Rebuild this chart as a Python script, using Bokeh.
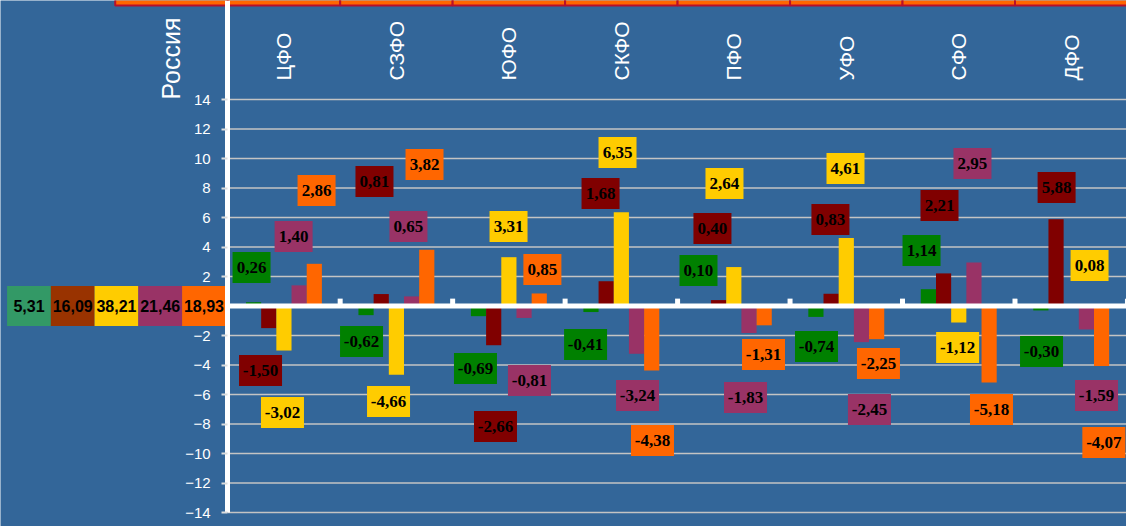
import numpy as np
from bokeh.plotting import figure
from bokeh.models import Range1d, LinearAxis, FixedTicker
from bokeh.core.properties import value
from bokeh.embed import file_html
from bokeh.resources import INLINE

# ---------------- data ----------------
total_name = "Россия"
regions = ["ЦФО", "СЗФО", "ЮФО", "СКФО", "ПФО", "УФО", "СФО", "ДФО"]
russia_shares = [5.31, 16.09, 38.21, 21.46, 18.93]

s_green = [0.26, -0.62, -0.69, -0.41, 0.10, -0.74, 1.14, -0.30]
s_darkred = [-1.50, 0.81, -2.66, 1.68, 0.40, 0.83, 2.21, 5.88]
s_yellow = [-3.02, -4.66, 3.31, 6.35, 2.64, 4.61, -1.12, 0.08]
s_purple = [1.40, 0.65, -0.81, -3.24, -1.83, -2.45, 2.95, -1.59]
s_orange = [2.86, 3.82, 0.85, -4.38, -1.31, -2.25, -5.18, -4.07]

y_ticks = [-14, -12, -10, -8, -6, -4, -2, 2, 4, 6, 8, 10, 12, 14]

# ---------------- layout / style ----------------
series = [s_green, s_darkred, s_yellow, s_purple, s_orange]
colors = ["#008000", "#800000", "#FFCC00", "#993366", "#FF6600"]
russia_colors = ["#339966", "#993300", "#FFCC00", "#993366", "#FF6600"]

# label anchors (offset from category centre, y position), manually placed labels
label_dx = [
    [-0.288, -0.310, -0.297, -0.318, -0.314, -0.265, -0.331, -0.264],
    [-0.208, -0.195, -0.119, -0.185, -0.190, -0.141, -0.171, -0.130],
    [-0.013, -0.070, -0.003, -0.034, -0.083, -0.007, -0.010, 0.163],
    [0.086, 0.107, 0.183, 0.144, 0.104, 0.206, 0.122, 0.225],
    [0.290, 0.250, 0.298, 0.277, 0.264, 0.286, 0.291, 0.290],
]
label_y = [
    [2.61, -2.41, -4.24, -2.61, 2.41, -2.75, 3.76, -3.08],
    [-4.37, 8.44, -8.17, 7.63, 5.25, 5.86, 6.81, 8.03],
    [-7.22, -6.47, 5.39, 10.41, 8.31, 9.32, -2.81, 2.75],
    [4.71, 5.39, -5.05, -6.07, -6.20, -7.02, 9.66, -6.07],
    [7.83, 9.59, 2.47, -9.12, -3.29, -3.90, -7.02, -9.25],
]

BG = "#336699"
W, H = 1126, 526
PX_CAT = 112.47      # pixels per category
AX_PX = 227.2        # pixel position of the value axis
ZERO_PX = 305.5      # pixel position of zero
PX_UNIT = 14.75      # pixels per value unit
x_start = -AX_PX / PX_CAT
x_end = (W - AX_PX) / PX_CAT
y_end = ZERO_PX / PX_UNIT
y_start = (ZERO_PX - H) / PX_UNIT

p = figure(width=W, height=H,
           x_range=Range1d(x_start, x_end), y_range=Range1d(y_start, y_end),
           output_backend="svg", toolbar_location=None,
           x_axis_type=None, y_axis_type=None,
           min_border_left=0, min_border_right=0, min_border_top=0,
           min_border_bottom=0,
           background_fill_color=BG, border_fill_color=BG,
           outline_line_color=None,
           styles={"position": "absolute", "left": "0px", "top": "0px"})

n = len(regions)
centers = np.arange(n) + 0.5
bar_w = 0.135

# table strip at the very top (one cell per category incl. Russia)
cells_left = np.arange(-1, n)
top_px = 5
p.quad(left=cells_left, right=cells_left + 1, bottom=(ZERO_PX - top_px) / PX_UNIT,
       top=y_end + 2, fill_color="#FF6600", line_color="#B8102A", line_width=2)

# gridlines (only right of the axis)
p.segment(x0=[0] * len(y_ticks), x1=[n] * len(y_ticks), y0=y_ticks, y1=y_ticks,
          line_color="#C4C4C4", line_width=1.5)

# bars
for k, (vals, col) in enumerate(zip(series, colors)):
    xs = centers + (k - 2) * bar_w
    p.vbar(x=xs, top=vals, bottom=0, width=bar_w, fill_color=col, line_color=None)

# zero line with category tick marks
p.segment(x0=[0], x1=[n], y0=[0], y1=[0], line_color="white", line_width=5)
bnd = np.arange(1, n + 1)
p.segment(x0=bnd, x1=bnd, y0=[0] * n, y1=[0.5] * n, line_color="white", line_width=5)


def fmt(v):
    return f"{v:.2f}".replace(".", ",")


# data labels: coloured box + bold serif text
for k, (vals, col) in enumerate(zip(series, colors)):
    xs = centers + np.array(label_dx[k])
    texts = [fmt(v) for v in vals]
    box_w = [38 if v >= 0 else 43 for v in vals]
    p.rect(x=xs, y=label_y[k], width=box_w, height=31,
           width_units="screen", height_units="screen",
           fill_color=col, line_color=None)
    p.text(x=xs, y=label_y[k], text=texts,
           text_font=value("Liberation Serif"), text_font_style="bold",
           text_font_size="17px", text_color="black",
           text_align="center", text_baseline="middle")

# Russia shares row
r_w = 0.389
r_x = -1.767 + np.arange(len(russia_shares)) * r_w
p.rect(x=r_x, y=[0] * len(r_x), width=r_w, height=2.71,
       fill_color=russia_colors, line_color=None)
p.text(x=r_x, y=[0] * len(r_x), text=[fmt(v) for v in russia_shares],
       text_font=value("Liberation Sans"), text_font_style="bold",
       text_font_size="16px", text_color="black",
       text_align="center", text_baseline="middle")

# value axis at the Russia / ЦФО boundary
yaxis = LinearAxis(fixed_location=0, ticker=FixedTicker(ticks=y_ticks),
                   bounds=(-14, y_end),
                   axis_line_color="white", axis_line_width=5,
                   major_tick_out=6, major_tick_in=0,
                   major_tick_line_color="#DDDDDD", major_tick_line_width=2,
                   minor_tick_line_color=None,
                   major_label_standoff=11,
                   major_label_text_color="white",
                   major_label_text_font="Liberation Sans",
                   major_label_text_font_size="15px")
p.add_layout(yaxis, "left")

# category names: total
tot_axis = LinearAxis(fixed_location=14, ticker=FixedTicker(ticks=[-0.5]),
                      major_label_overrides={-0.5: total_name},
                      major_label_orientation="vertical",
                      axis_line_color=None, major_tick_line_color=None,
                      minor_tick_line_color=None,
                      major_tick_out=0, major_tick_in=0,
                      major_label_standoff=0,
                      major_label_text_color="white",
                      major_label_text_font="Liberation Sans",
                      major_label_text_font_size="25px")
p.add_layout(tot_axis, "above")

# category names: regions
xaxis = LinearAxis(fixed_location=14, ticker=FixedTicker(ticks=list(centers)),
                   major_label_overrides={float(t): nm for t, nm in zip(centers, regions)},
                   major_label_orientation="vertical",
                   axis_line_color=None, major_tick_line_color=None,
                   minor_tick_line_color=None,
                   major_tick_out=0, major_tick_in=0,
                   major_label_standoff=19,
                   major_label_text_color="white",
                   major_label_text_font="Liberation Sans",
                   major_label_text_font_size="21px")
p.add_layout(xaxis, "above")

open("out.html", "w").write(file_html(p, INLINE))
